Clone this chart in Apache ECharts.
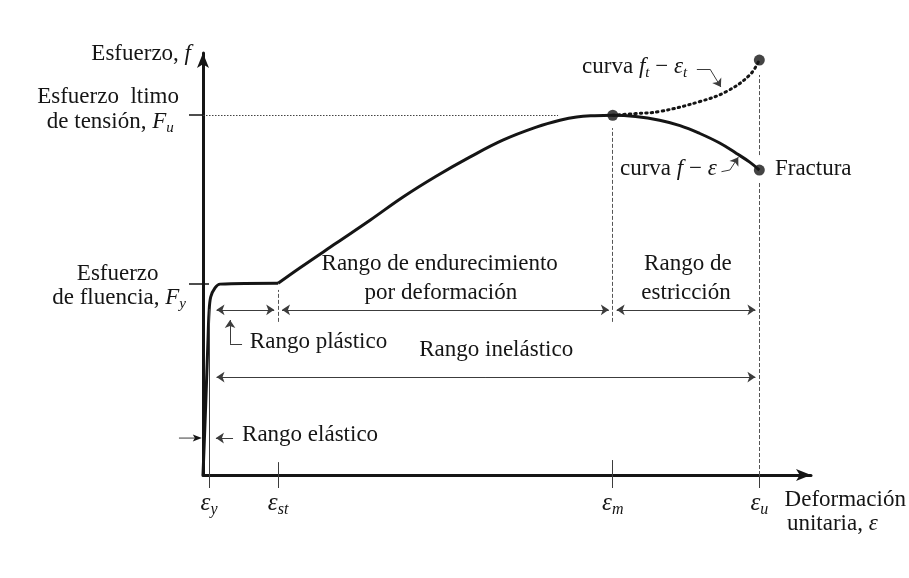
<!DOCTYPE html>
<html>
<head>
<meta charset="utf-8">
<title>Curva esfuerzo-deformación</title>
<script src="https://cdn.jsdelivr.net/npm/echarts@6/dist/echarts.min.js"></script>
<style>
  html, body { margin: 0; padding: 0; background: #ffffff; }
  #chart { width: 909px; height: 578px; }
</style>
</head>
<body>
<div id="chart"></div>
<script>
// Strain values (schematic units) where the behaviour changes, and their subscripts
const strainMarks = [1.0, 12.5, 68.2, 92.6];
const strainMarkSubs = ['y', 'st', 'm', 'u'];
// Stress levels (schematic units): yield Fy and ultimate Fu
const stressMarks = [46.0, 86.7];

// Engineering curve f–ε, part 1: elastic rise, yield knee and plastic plateau
const yieldStrain = [0, 0.45, 0.83, 1.0, 1.28, 2.0, 2.83, 12.5];
const yieldStress = [0, 17.0, 32.5, 39.0, 42.9, 45.1, 46.0, 46.2];
// part 2: strain hardening up to Fu, then necking down to fracture
const hardStrain = [12.5, 16.1, 22.2, 27.8, 33.3, 38.8, 44.4, 49.9, 55.6, 59.4, 62.2, 65.2, 68.2,
                    72.0, 76.0, 79.4, 82.7, 86.0, 88.8, 91.0, 92.6];
const hardStress = [46.2, 49.9, 55.9, 61.4, 67.0, 72.0, 76.6, 80.7, 83.9, 85.5, 86.3, 86.6, 86.7,
                    86.4, 85.5, 84.2, 82.3, 80.0, 77.5, 75.4, 73.5];
// True curve ft–εt beyond εm
const trueStrain = [68.2, 72.0, 76.0, 82.7, 87.1, 91.0, 92.6];
const trueStress = [86.7, 87.1, 87.6, 90.0, 92.4, 96.4, 100];

const FONT = '"Liberation Serif", "Times New Roman", serif';
const INK = '#151515';
const THIN = '#3c3c3c';
const SIZE = 23;

const [eY, eSt, eM, eU] = strainMarks;
const [Fy, Fu] = stressMarks;

function pairs(xs, ys) { return xs.map((x, i) => [x, ys[i]]); }

// rich-text tokens: normal, italic, italic subscript
function tokens(size) {
  const sub = Math.round(size * 0.65);
  return {
    n: { fontFamily: FONT, fontSize: size, fill: INK, color: INK },
    i: { fontFamily: FONT, fontSize: size, fontStyle: 'italic', fill: INK, color: INK },
    s: { fontFamily: FONT, fontSize: sub, fontStyle: 'italic', fill: INK, color: INK,
         verticalAlign: 'top', padding: [Math.round(size * 0.5), 0, 0, 0] }
  };
}

const AR = 0.65; // arrowheads are centred on the end point; pull ends in so tips land on the limits
const ARY = 0.95;
function span(x1, x2, y) {
  return [{ coord: [x1 + AR, y] }, { coord: [x2 - AR, y] }];
}
function seg(x1, y1, x2, y2, style) {
  return [{ coord: [x1, y1], lineStyle: style }, { coord: [x2, y2] }];
}

const dashed = { color: '#555', width: 1, type: [4, 2] };
const dotted = { color: '#444', width: 1, type: [1.5, 1.5] };
const solid = { color: THIN, width: 1, type: 'solid' };

// dimension lines for the ranges
const rowTop = 39.8, rowMid = 23.6, rowLow = 8.9;
const dims = [
  span(1.6, eSt, rowTop),
  span(eSt, eM, rowTop),
  span(eM, eU, rowTop),
  span(1.6, eU, rowMid)
];

// leader lines ending in an arrow
const leaders = [
  [{ coord: [5.0, rowLow] }, { coord: [1.5 + AR, rowLow] }],
  [{ coord: [4.5, 31.6] }, { coord: [4.5, 38.3 - ARY] }],
  [{ coord: [84.4, 97.8] }, { coord: [86.2, 93.5] }],
  [{ coord: [87.7, 73.5] }, { coord: [89.1, 76.6] }]
];

// reference lines without arrows
const refs = [
  seg(eY, 0, eY, 40, solid),
  seg(eSt, 36.9, eSt, 44.6, dashed),
  seg(eSt, 0, eSt, 3.1, solid),
  seg(eM, 36.9, eM, 83.6, dashed),
  seg(eM, 0, eM, 3.6, solid),
  seg(eU, 77.1, eU, 96.4, dashed),
  seg(eU, 0, eU, 70.4, dashed),
  seg(0, Fu, 59.1, Fu, dotted),
  seg(0, Fy, 1.3, Fy, { color: INK, width: 1.5 }),
  seg(4.5, 31.6, 6.5, 31.6, solid),
  seg(82.2, 97.8, 84.4, 97.8, solid),
  seg(86.3, 73.1, 87.7, 73.5, solid)
];

// text notes, placed in data coordinates
const notes = [
  { x: -27.6, y: 91.1, align: 'left', text: '{n|Esfuerzo  ltimo}' },
  { x: -26.0, y: 85.1, align: 'left', text: '{n|de tensión, }{i|F}{s|u}' },
  { x: -21.0, y: 48.4, align: 'left', text: '{n|Esfuerzo}' },
  { x: -25.1, y: 42.7, align: 'left', text: '{n|de fluencia, }{i|F}{s|y}' },
  { x: 39.4, y: 50.8, align: 'center', text: '{n|Rango de endurecimiento}' },
  { x: 39.6, y: 43.9, align: 'center', text: '{n|por deformación}' },
  { x: 80.7, y: 50.8, align: 'center', text: '{n|Rango de}' },
  { x: 80.4, y: 43.9, align: 'center', text: '{n|estricción}' },
  { x: 48.8, y: 30.1, align: 'center', text: '{n|Rango inelástico}' },
  { x: 7.8, y: 32.0, align: 'left', text: '{n|Rango plástico}' },
  { x: 6.5, y: 9.6, align: 'left', text: '{n|Rango elástico}' },
  { x: 63.1, y: 98.3, align: 'left', text: '{n|curva }{i|f}{s|t}{n| − }{i|ε}{s|t}' },
  { x: 69.4, y: 73.7, align: 'left', text: '{n|curva }{i|f}{n| − }{i|ε}' },
  { x: 95.2, y: 73.7, align: 'left', text: '{n|Fractura}' },
  { x: 96.8, y: -6.0, align: 'left', text: '{n|Deformación}' },
  { x: 97.2, y: -11.8, align: 'left', text: '{n|unitaria, }{i|ε}' }
];

const chart = echarts.init(document.getElementById('chart'), null, { renderer: 'canvas' });

const axisArrow = { color: INK, width: 3 };

// 6.01 px per strain unit, 4.15 px per stress unit; the arrows run a little past 100
const option = {
  animation: false,
  backgroundColor: '#ffffff',
  grid: { left: 203, right: 98, top: 53, bottom: 103, containLabel: false, outerBoundsMode: 'none' },
  xAxis: {
    type: 'value', min: 0, max: 101.2,
    axisLine: { show: true, onZero: false, symbol: ['none', 'arrow'], symbolSize: [9, 15], lineStyle: axisArrow },
    axisTick: { show: true, customValues: strainMarks, length: 13, lineStyle: { color: THIN, width: 1 } },
    axisLabel: {
      show: true, customValues: strainMarks, margin: 14,
      formatter: function (v) {
        let k = -1;
        strainMarks.forEach((m, i) => { if (Math.abs(m - v) < 1e-6) k = i; });
        return k < 0 ? '' : '{i|ε}{s|' + strainMarkSubs[k] + '}';
      },
      rich: tokens(25)
    },
    splitLine: { show: false }
  },
  yAxis: {
    type: 'value', min: 0, max: 101.7,
    name: '{n|Esfuerzo, }{i|f}', nameLocation: 'end', nameGap: -1,
    nameTextStyle: { align: 'right', verticalAlign: 'middle', padding: [0, 12, 0, 0], rich: tokens(SIZE) },
    axisLine: { show: true, onZero: false, symbol: ['none', 'arrow'], symbolSize: [9, 15], lineStyle: axisArrow },
    axisTick: { show: true, customValues: stressMarks, length: 14, lineStyle: { color: INK, width: 1.5 } },
    axisLabel: { show: false },
    splitLine: { show: false }
  },
  series: [
    {
      name: 'refs', type: 'line', data: [], z: 1, silent: true,
      markLine: { silent: true, symbol: ['none', 'none'], label: { show: false }, data: refs, animation: false }
    },
    {
      name: 'dims', type: 'line', data: [], z: 1, silent: true,
      markLine: {
        silent: true, symbol: ['arrow', 'arrow'], symbolSize: 8, label: { show: false },
        lineStyle: { color: THIN, width: 1, type: 'solid' }, data: dims, animation: false
      }
    },
    {
      name: 'leaders', type: 'line', data: [], z: 1, silent: true,
      markLine: {
        silent: true, symbol: ['none', 'arrow'], symbolSize: 8, label: { show: false },
        lineStyle: { color: THIN, width: 1, type: 'solid' }, data: leaders, animation: false
      }
    },
    {
      name: 'f-ε fluencia', type: 'line', data: pairs(yieldStrain, yieldStress), z: 3,
      smooth: 0.35, showSymbol: false, clip: false,
      lineStyle: { color: INK, width: 3 }
    },
    {
      name: 'f-ε endurecimiento', type: 'line', data: pairs(hardStrain, hardStress), z: 3,
      smooth: 0.4, showSymbol: false, clip: false,
      lineStyle: { color: INK, width: 3 }
    },
    {
      name: 'ft-εt', type: 'line', data: pairs(trueStrain, trueStress), z: 3,
      smooth: 0.4, showSymbol: false, clip: false,
      lineStyle: { color: INK, width: 3, type: [1.5, 4], cap: 'round' }
    },
    {
      name: 'puntos', type: 'scatter', z: 4, clip: false, symbolSize: 11,
      itemStyle: { color: INK },
      data: [
        [eM, Fu],
        [hardStrain[hardStrain.length - 1], hardStress[hardStress.length - 1]],
        [trueStrain[trueStrain.length - 1], trueStress[trueStress.length - 1]]
      ]
    }
  ]
};

chart.setOption(option);

const toPx = p => chart.convertToPixel({ gridIndex: 0 }, p);

const graphics = notes.map(n => {
  const [x, y] = toPx([n.x, n.y]);
  return {
    type: 'text', x: x, y: y, silent: true, z: 10,
    style: {
      text: n.text, rich: tokens(SIZE), fontFamily: FONT, fontSize: SIZE, fill: INK,
      align: n.align, verticalAlign: 'middle', textAlign: n.align, textVerticalAlign: 'middle'
    }
  };
});

// outer arrow of the elastic range, pointing in to the stress axis
const [ax0, ay] = toPx([-4.0, rowLow]);
const [ax1] = toPx([-0.2, rowLow]);
graphics.push({
  type: 'line', silent: true, z: 5,
  shape: { x1: ax0, y1: ay, x2: ax1 - 7, y2: ay },
  style: { stroke: THIN, lineWidth: 1 }
});
graphics.push({
  type: 'polygon', silent: true, z: 5,
  shape: { points: [[ax1, ay], [ax1 - 9, ay - 3.5], [ax1 - 7, ay], [ax1 - 9, ay + 3.5]] },
  style: { fill: INK }
});

chart.setOption({ graphic: graphics });
</script>
</body>
</html>
